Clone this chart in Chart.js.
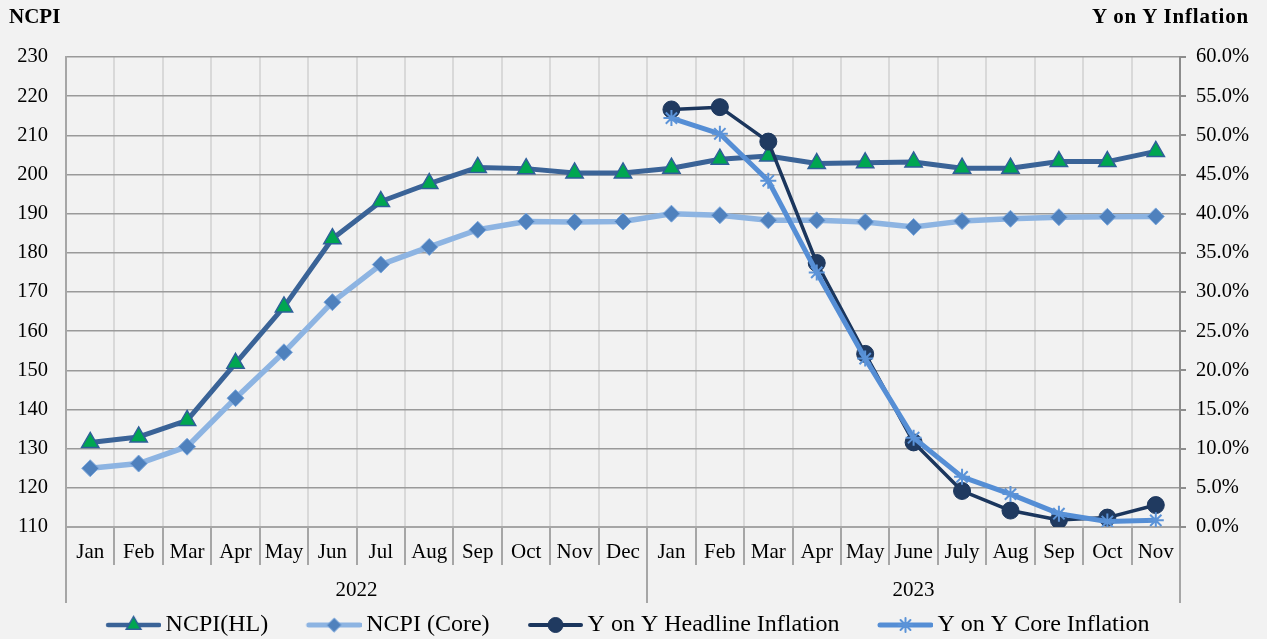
<!DOCTYPE html>
<html><head><meta charset="utf-8">
<script src="https://cdn.jsdelivr.net/npm/chart.js@4/dist/chart.umd.min.js"></script>
<style>
html,body{margin:0;padding:0;background:#f2f2f2;}
#wrap{position:relative;width:1267px;height:639px;background:#f2f2f2;}
canvas{position:absolute;left:0;top:0;}
.hdr{position:absolute;top:4px;font:bold 21px 'Liberation Serif',serif;color:#000;line-height:24px;white-space:nowrap;}
</style></head><body>
<div id="wrap"><canvas id="c" width="1267" height="639"></canvas>
<div class="hdr" style="left:9px">NCPI</div>
<div class="hdr" style="right:18px;letter-spacing:0.8px">Y on Y Inflation</div>
</div>
<script>
// ---- data ----
const months = ['Jan','Feb','Mar','Apr','May','Jun','Jul','Aug','Sep','Oct','Nov','Dec',
                'Jan','Feb','Mar','Apr','May','June','July','Aug','Sep','Oct','Nov'];
const years = ['2022','2023'];
const yearLengths = [12, 11];
const seriesNames = ['NCPI(HL)','NCPI (Core)','Y on Y Headline Inflation','Y on Y Core Inflation'];
const ncpiHL   = [131.6,133.0,137.2,151.8,166.2,183.6,193.1,197.7,201.8,201.5,200.4,200.4,
                  201.6,203.9,204.7,202.8,203.0,203.2,201.6,201.6,203.3,203.3,205.9];
const ncpiCore = [125.0,126.2,130.5,142.9,154.6,167.4,177.0,181.5,185.9,188.0,187.9,188.0,
                  190.0,189.6,188.3,188.3,187.9,186.6,188.1,188.7,189.1,189.2,189.3];
const yoyHeadline = [null,null,null,null,null,null,null,null,null,null,null,null,
                  53.3,53.6,49.2,33.7,22.1,10.8,4.6,2.1,0.9,1.2,2.8];
const yoyCore  = [null,null,null,null,null,null,null,null,null,null,null,null,
                  52.2,50.2,44.2,32.5,21.5,11.4,6.4,4.2,1.7,0.7,0.85];
const leftAxis  = {min:110, max:230, step:10};
const rightAxis = {min:0, max:60, step:5};

// ---- year grouping helpers ----
const yearBounds = [-0.5];
const yearCenters = [];
yearLengths.forEach((n)=>{
  const start = yearBounds[yearBounds.length-1];
  yearCenters.push(start + n/2);
  yearBounds.push(start + n);
});
const yearTickValues = yearBounds.concat(yearCenters).sort((a,b)=>a-b);
function yearLabel(v){
  const i = yearCenters.findIndex(c=>Math.abs(c-v)<1e-6);
  return i>=0 ? years[i] : '';
}
function isBound(v){ return yearBounds.some(b=>Math.abs(b-v)<1e-6); }

const FONT = "'Liberation Serif', 'Times New Roman', serif";

const styles = [
  {line:'#3a6397', width:5, pStyle:'triangle', r:10, bg:'#00a651', bd:'#2e5f99', bw:1.5, lw:4.5, lr:8.5},
  {line:'#8db4e2', width:5.5, pStyle:'rectRot', r:8.5, bg:'#4f81bd', bd:'#7aa6dc', bw:1, lw:5, lr:7},
  {line:'#1b365d', width:3.5, pStyle:'circle', r:8.5, bg:'#203a60', bd:'#1b365d', bw:1, lw:4, lr:7.5},
  {line:'#558ed5', width:5, pStyle:'star', r:8, bg:'rgba(0,0,0,0)', bd:'#5b93d8', bw:2, lw:5, lr:7}
];

const BW = 82, IMGW = 97, SAMPLE = 55;
function legendImage(s){
  const c = document.createElement('canvas');
  c.width = IMGW; c.height = 22;
  const g = c.getContext('2d');
  const x0 = IMGW - SAMPLE, y = 11;
  g.strokeStyle = s.line; g.lineWidth = s.lw; g.lineCap = 'round';
  g.beginPath(); g.moveTo(x0 + 2, y); g.lineTo(IMGW - 2, y); g.stroke();
  g.fillStyle = s.bg; g.strokeStyle = s.bd; g.lineWidth = s.bw;
  if (Chart.helpers && Chart.helpers.drawPoint) {
    Chart.helpers.drawPoint(g, {pointStyle:s.pStyle, radius:s.lr, borderWidth:s.bw, rotation:0}, x0 + SAMPLE/2, y);
  }
  return c;
}

const seriesData = [ncpiHL, ncpiCore, yoyHeadline, yoyCore];
const axisOf = ['y','y','y1','y1'];
const orders = [4,3,2,1];
const datasets = seriesData.map((d,i)=>({
  label: seriesNames[i], data: d, yAxisID: axisOf[i], order: orders[i],
  borderColor: styles[i].line, borderWidth: styles[i].width, backgroundColor: styles[i].bg,
  pointStyle: styles[i].pStyle, pointRadius: styles[i].r, pointHoverRadius: styles[i].r,
  pointBackgroundColor: styles[i].bg, pointBorderColor: styles[i].bd, pointBorderWidth: styles[i].bw,
  borderJoinStyle: 'round', borderCapStyle: 'round', tension: 0, spanGaps: false, fill: false
}));
const legendImgs = styles.map(legendImage);

// shift the legend row a little to the left, as in the reference
const legendShift = {
  id: 'legendShift',
  afterLayout(chart){
    const lg = chart.legend;
    if (lg) { lg.right -= 46; lg.width -= 46; }
  }
};

new Chart(document.getElementById('c'), {
  type: 'line',
  data: { labels: months, datasets },
  plugins: [legendShift],
  options: {
    responsive: false, animation: false, devicePixelRatio: 1,
    layout: { padding: { top: 57, left: 0, right: 0, bottom: -8 } },
    plugins: {
      title: {display:false}, tooltip: {enabled:false},
      legend: {
        position: 'bottom', align: 'center',
        labels: {
          usePointStyle: true, pointStyleWidth: BW, padding: 4,
          font: {family: FONT, size: 24}, color: '#000',
          generateLabels: chart => chart.data.datasets.map((ds,i)=>({
            text: ds.label, pointStyle: legendImgs[i], fillStyle: 'rgba(0,0,0,0)',
            strokeStyle: 'rgba(0,0,0,0)', lineWidth: 0, hidden: !chart.isDatasetVisible(i),
            datasetIndex: i, fontColor: '#000'
          }))
        }
      }
    },
    scales: {
      x: {
        type: 'category', position: 'bottom', offset: true, weight: 0,
        grid: {offset: true, color: '#d9d9d9', lineWidth: 2, tickColor: '#a6a6a6', tickLength: 38, drawTicks: true},
        border: {color: '#a6a6a6', width: 2},
        ticks: {autoSkip: false, maxRotation: 0, minRotation: 0, padding: -25, color: '#000', font: {family: FONT, size: 21}},
        afterFit: s => { s.height = 38; }
      },
      x2: {
        type: 'linear', position: 'bottom', min: -0.5, max: 22.5, weight: 1, offset: false,
        afterBuildTicks: s => { s.ticks = yearTickValues.map(v=>({value: v})); },
        grid: {drawOnChartArea: false, drawTicks: true, tickLength: 38, lineWidth: 2,
               color: ctx => (ctx.tick && isBound(ctx.tick.value)) ? '#a6a6a6' : 'rgba(0,0,0,0)'},
        border: {display: false},
        ticks: {autoSkip: false, maxRotation: 0, minRotation: 0, padding: -25, color: '#000',
                font: {family: FONT, size: 21}, callback: v => yearLabel(v)},
        afterFit: s => { s.height = 44; }
      },
      y: {
        position: 'left', min: leftAxis.min, max: leftAxis.max,
        ticks: {stepSize: leftAxis.step, padding: 18, color: '#000', font: {family: FONT, size: 20.5}},
        grid: {color: '#9a9a9a', lineWidth: 1.6, drawTicks: false},
        border: {color: '#a6a6a6', width: 2},
        afterFit: s => { s.width = 66; }
      },
      y1: {
        position: 'right', min: rightAxis.min, max: rightAxis.max,
        ticks: {stepSize: rightAxis.step, padding: 10, color: '#000', font: {family: FONT, size: 20.5},
                callback: v => v.toFixed(1) + '%'},
        grid: {drawOnChartArea: false, drawTicks: true, tickLength: 6, color: '#8c8c8c', lineWidth: 2},
        border: {color: '#8c8c8c', width: 2},
        afterFit: s => { s.width = 87; }
      }
    }
  }
});
</script>
</body></html>
